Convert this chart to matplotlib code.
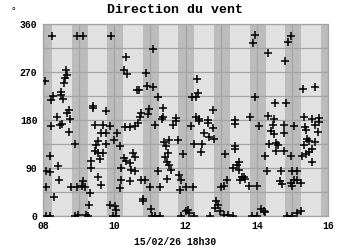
import matplotlib
matplotlib.use("Agg")
import matplotlib.pyplot as plt

# heure (jour de février, fractionnaire) et direction du vent (degrés)
jours = [
    8.25, 8.94, 9.12, 9.90, 10.32, 10.28, 10.35, 8.06, 8.65, 8.67, 8.61, 8.59,
    10.65, 8.28, 8.23, 8.49, 8.51, 8.56, 8.72, 8.68, 9.40, 9.41, 9.78, 8.39, 8.75,
    8.22, 8.47, 8.53, 8.72, 9.45, 9.69, 9.87, 9.62, 9.78, 10.09, 10.29, 10.44,
    10.58, 8.91, 9.54, 9.50, 9.78, 10.00, 10.15, 9.45, 9.54, 9.69, 9.59, 9.34,
    8.19, 10.28, 10.34, 10.53, 10.58, 10.44, 8.09, 8.19, 8.42, 9.36, 10.20,
    10.48, 10.58, 9.54, 8.09, 8.44, 9.12, 9.08, 8.79, 8.94, 9.17, 9.64, 10.20,
    10.44, 10.15, 8.30, 9.31, 9.28, 9.87, 10.01, 10.06, 8.09, 8.19, 8.89, 8.98,
    9.22, 9.26, 9.97, 10.06,
    11.08, 10.89, 10.69, 10.91, 11.08, 11.24, 12.33, 12.35, 12.18, 12.30, 11.36,
    10.97, 10.94, 10.75, 10.72, 11.36, 12.78, 11.74, 12.30, 12.39, 12.63,
    10.66, 11.13, 11.34, 11.72, 11.66, 12.16, 12.39, 12.63, 12.77, 12.53, 12.67,
    12.81, 11.41, 11.55, 11.80, 12.25, 12.47, 12.44, 11.46, 11.50, 11.43, 11.92,
    13.12, 11.47, 11.55, 11.58, 11.24, 13.33, 10.75, 10.85, 11.47, 11.81, 11.88,
    11.01, 11.29, 12.00, 12.21, 11.85, 13.16, 13.09, 13.00, 10.80, 10.82, 11.03,
    11.06, 11.15, 11.29, 11.88, 12.00, 12.06, 12.11, 12.25, 12.86, 12.91, 12.84,
    12.97, 13.09, 12.69, 13.19, 13.33,
    13.95, 13.90, 14.95, 14.88, 14.32, 14.79, 15.29, 15.63, 13.96, 14.51, 14.81,
    13.82, 14.32, 14.48, 15.32, 15.56, 15.76, 13.40,
    13.40, 14.06, 14.45, 14.41, 14.48, 14.76, 14.76, 15.04, 15.35, 15.37, 15.65,
    15.76, 15.72, 13.40, 13.40, 14.34, 14.53, 14.60, 14.53, 14.76, 14.24, 14.95,
    15.28, 15.42, 15.48, 15.65, 15.32, 15.56, 15.48, 15.39, 15.54, 13.50, 13.45,
    13.50, 13.59, 13.68, 13.54, 13.64, 13.78, 14.01, 14.29, 14.69, 14.64, 14.71,
    14.95, 14.99, 15.13, 15.04, 15.13, 15.23, 14.99, 14.13, 14.20, 14.24, 13.87,
    14.01, 14.85, 14.99, 15.13, 15.23,
]
direction = [
    338, 338, 338, 338, 298, 274, 266, 253, 274, 264, 258, 249,
    236, 225, 218, 233, 227, 219, 199, 194, 206, 202, 196, 185, 181,
    168, 170, 172, 157, 171, 170, 168, 156, 156, 156, 166, 166,
    168, 135, 141, 133, 135, 143, 131, 121, 118, 118, 107, 104,
    112, 109, 104, 118, 110, 99, 84, 83, 93, 90, 90,
    87, 84, 73, 54, 67, 65, 56, 54, 54, 54, 59, 68,
    66, 53, 36, 43, 20, 21, 18, 12, 0, 0, 0, 1,
    2, 0, 0, 0,
    314, 269, 236, 244, 241, 224, 256, 230, 224, 224, 202,
    200, 191, 194, 186, 186, 199, 183, 186, 182, 180,
    174, 170, 181, 178, 171, 168, 178, 174, 165, 156, 149,
    145, 139, 143, 143, 135, 135, 120, 131, 118, 110, 116,
    116, 101, 95, 86, 84, 90, 68, 68, 70, 76, 68,
    54, 54, 54, 54, 49, 67, 56, 54, 32, 28, 14,
    0, 0, 0, 0, 9, 12, 6, 0, 28, 20, 15,
    9, 2, 0, 2, 0,
    339, 325, 338, 327, 305, 291, 239, 242, 224, 212, 211,
    186, 188, 181, 185, 181, 184, 180,
    172, 168, 171, 160, 154, 170, 156, 168, 166, 162, 171,
    176, 158, 131, 126, 135, 137, 134, 122, 122, 112, 112,
    112, 145, 141, 139, 134, 126, 120, 116, 101, 101, 96,
    87, 74, 70, 68, 73, 56, 56, 84, 84, 66, 60,
    62, 84, 84, 68, 68, 62, 56, 14, 9, 8, 0,
    0, 0, 0, 6, 9,
]

jours_ticks = list(range(8, 17))
jours_labels = [f"{d:02d}" if d % 2 == 0 else "" for d in jours_ticks]
dir_ticks = [0, 45, 90, 135, 180, 225, 270, 315, 360]
dir_labels = [str(v) if v % 90 == 0 else "" for v in dir_ticks]

FONT = "Liberation Mono"

fig = plt.figure(figsize=(3.5, 2.5), dpi=100)
ax = fig.add_axes([0.123, 0.136, 0.814, 0.768])
ax.set_facecolor("#e1e1e1")

# bandes de nuit autour de minuit
for d in jours_ticks:
    ax.axvspan(d - 0.2, d + 0.25, color="#bcbcbc", lw=0, zorder=0)

ax.plot(jours, direction, "k+", ms=5.5, mew=1.1, zorder=3)

ax.set_xlim(8, 16)
ax.set_ylim(0, 360)
ax.set_xticks(jours_ticks)
ax.set_xticklabels(jours_labels)
ax.set_yticks(dir_ticks)
ax.set_yticklabels(dir_labels)
ax.tick_params(axis="x", length=0, pad=3.5, labelsize=7)
ax.tick_params(axis="y", length=0, pad=4, labelsize=7)
for lab in ax.get_xticklabels() + ax.get_yticklabels():
    lab.set_family(FONT)
    lab.set_fontweight("bold")
ax.grid(True, color="#a4a4a4", lw=0.9, zorder=1)
ax.set_axisbelow(True)
for sp in ax.spines.values():
    sp.set_color("#a4a4a4")
    sp.set_linewidth(0.9)

fig.text(0.5, 0.96, "Direction du vent", ha="center", va="center",
         family=FONT, fontweight="bold", fontsize=9.5)
fig.text(0.037, 0.955, "°", ha="center", va="center", family=FONT, fontsize=7)
fig.text(0.5, 0.032, "15/02/26 18h30", ha="center", va="center",
         family=FONT, fontweight="bold", fontsize=7)

fig.savefig("out.png", dpi=100)
